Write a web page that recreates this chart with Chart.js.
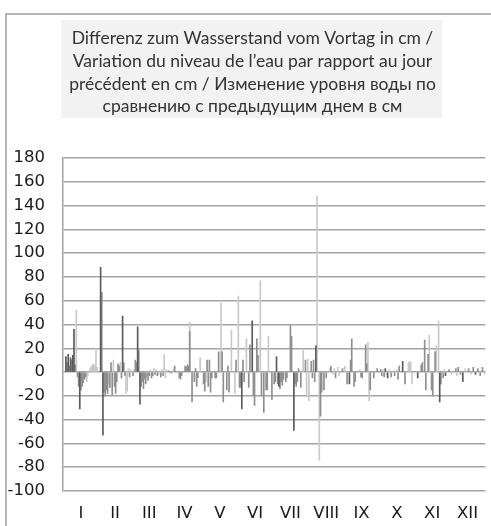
<!DOCTYPE html>
<html>
<head>
<meta charset="utf-8">
<script src="https://cdn.jsdelivr.net/npm/chart.js@4/dist/chart.umd.min.js"></script>
<style>
  body { margin: 0; background: #fff; }
  canvas { display: block; }
</style>
</head>
<body>
<canvas id="pegel" width="491" height="526"></canvas>
<script>
// Monate und Tage pro Monat
const monate = ['I', 'II', 'III', 'IV', 'V', 'VI', 'VII', 'VIII', 'IX', 'X', 'XI', 'XII'];
const monatsTage = [31, 28, 31, 30, 31, 30, 31, 31, 30, 31, 30, 31];

// [Tag des Jahres, Differenz in cm]
const reiheDunkel = [
  [2,13],[4,15],[6,12],[8,14],[9,36],[14,-31],[32,88],[34,-53],[51,47],[64,38],[66,-27],
  [154,-31],[163,43],[184,13],[186,-12],[199,-49],[218,22],[247,-10],[278,3],[280,-5],
  [293,9],[306,-5],[325,-25],[330,-3],[345,-8],[356,-2]
];
const reiheMittel = [
  [3,8],[5,5],[7,10],[10,6],[12,-4],[13,-12],[15,-15],[16,-12],[17,-9],[18,-6],[19,-4],
  [33,67],[35,-17],[36,-20],[37,-15],[38,-18],[40,-13],[41,8],[42,-19],[44,-12],[45,-18],
  [46,-8],[47,7],[48,5],[50,-5],[52,8],[53,-3],[57,-4],[60,-3],[62,10],[63,8],[65,18],
  [67,-12],[68,-8],[69,-14],[70,-6],[71,-10],[73,-7],[74,-3],[76,-5],[77,-3],[79,-2],
  [81,-3],[84,-4],[86,-3],[91,1],[93,-1],[96,5],[100,-5],[101,-6],[102,-3],[105,5],
  [106,4],[107,6],[108,5],[109,34],[111,-25],[113,-8],[114,3],[115,-12],[116,-5],
  [121,-10],[122,-16],[124,10],[125,-12],[126,10],[127,-17],[128,-5],[131,-5],[132,-5],
  [134,17],[137,17],[138,-25],[141,-15],[142,5],[143,-17],[149,10],[152,-13],[153,-13],
  [155,10],[156,-8],[160,-13],[161,23],[164,-20],[165,-28],[167,28],[168,14],[171,-20],
  [173,-34],[175,-15],[176,-15],[180,-23],[182,-10],[183,-8],[185,-10],[187,-14],[188,-8],
  [189,-11],[190,-6],[192,-8],[193,-5],[196,39],[197,30],[200,-10],[201,-12],[202,-8],
  [203,3],[205,-13],[209,10],[214,9],[215,-5],[216,10],[217,-8],[222,-37],[223,-17],
  [225,-15],[227,-5],[231,5],[235,-5],[241,3],[245,-10],[248,10],[249,28],[251,-12],
  [252,-8],[257,-4],[258,-5],[261,23],[262,7],[265,-15],[268,-5],[271,3],[274,2],[275,-3],
  [277,-4],[283,-4],[286,-3],[289,-6],[290,5],[295,-10],[309,6],[310,8],[312,27],[313,-15],
  [315,15],[318,-15],[319,-20],[321,17],[326,-10],[328,-5],[333,2],[339,3],[341,4],[343,-2],
  [350,3],[354,4],[358,3],[360,-3],[362,4]
];
const reiheHell = [
  [11,52],[20,-8],[21,-3],[23,3],[24,5],[25,6],[26,7],[27,5],[28,20],[29,4],[39,-10],
  [43,10],[49,8],[54,-18],[55,-16],[56,3],[58,2],[61,2],[72,-4],[75,2],[78,3],[80,2],
  [82,-2],[83,1],[85,2],[87,15],[88,-5],[89,2],[95,2],[109,42],[118,12],[123,-8],[136,58],
  [145,35],[148,-18],[151,64],[158,28],[170,77],[177,30],[207,18],[210,-20],[211,11],
  [212,-24],[219,148],[221,-74],[230,3],[233,-2],[234,3],[237,4],[238,-3],[243,5],[256,2],
  [263,25],[264,-24],[276,2],[279,-2],[281,2],[284,1],[288,2],[298,8],[299,9],[300,8],
  [301,-10],[316,31],[322,22],[324,43],[329,2],[335,-2],[340,-3],[347,3],[352,-2],[364,-2]
];

const titel = [
  'Differenz zum Wasserstand vom Vortag in cm /',
  'Variation du niveau de l\u2019eau par rapport au jour',
  'précédent en cm / Изменение уровня воды по',
  'сравнению с предыдущим днем в см'
];

// Monatsmitten fuer die Achsenbeschriftung
const monatsMitte = [];
let summe = 0;
monatsTage.forEach(t => { monatsMitte.push(summe + t / 2); summe += t; });

function punkte(reihe) {
  return reihe.map(p => ({ x: p[0] + 0.5, y: p[1] }));
}

const gitterFarbe = '#a3a3a3';

// Rahmen und grauer Titelkasten
const hintergrund = {
  id: 'hintergrund',
  afterLayout(chart) {
    // Titel etwas nach rechts, wie im Original
    if (chart.titleBlock) chart.titleBlock.left = 14;
  },
  beforeDraw(chart) {
    const ctx = chart.ctx;
    ctx.save();
    ctx.fillStyle = '#f2f2f2';
    ctx.fillRect(61, 20, 381, 98);
    ctx.strokeStyle = '#a0a0a0';
    ctx.lineWidth = 1.5;
    ctx.beginPath();
    ctx.moveTo(6, 526);
    ctx.lineTo(6, 14);
    ctx.lineTo(491, 14);
    ctx.stroke();
    ctx.restore();
  }
};

const config = {
  type: 'bar',
  data: {
    datasets: [
      { label: 'dunkel', data: punkte(reiheDunkel), backgroundColor: '#5a5a5a' },
      { label: 'mittel', data: punkte(reiheMittel), backgroundColor: '#8e8e8e' },
      { label: 'hell', data: punkte(reiheHell), backgroundColor: '#c8c8c8' }
    ]
  },
  options: {
    responsive: false,
    animation: false,
    devicePixelRatio: 1,
    layout: { padding: 0 },
    datasets: {
      bar: { grouped: false, barThickness: 1, borderWidth: 0 }
    },
    plugins: {
      legend: { display: false },
      tooltip: { enabled: false },
      title: {
        display: true,
        text: titel,
        color: '#333',
        font: { family: 'Lato', size: 17.5, weight: 'normal', lineHeight: 1.3 },
        padding: { top: 27, bottom: 40 }
      }
    },
    scales: {
      x: {
        type: 'linear',
        min: 0,
        max: 365,
        offset: false,
        grid: { display: false, drawTicks: false },
        border: { display: false },
        afterFit(scale) { scale.height = 35; },
        afterBuildTicks(scale) {
          scale.ticks = monatsMitte.map(v => ({ value: v }));
        },
        ticks: {
          autoSkip: false,
          maxRotation: 0,
          padding: 13,
          color: '#1a1a1a',
          font: { family: 'DejaVu Sans', size: 16.5 },
          callback: (v, i) => monate[i]
        }
      },
      y: {
        min: -100,
        max: 180,
        afterFit(scale) { scale.width = 63; },
        grid: { color: gitterFarbe, lineWidth: 1.5, drawTicks: false },
        border: { display: true, color: gitterFarbe, width: 1.5 },
        ticks: {
          stepSize: 20,
          padding: 18,
          color: '#1a1a1a',
          font: { family: 'DejaVu Sans', size: 16.5 }
        }
      }
    }
  },
  plugins: [hintergrund]
};

window.addEventListener('DOMContentLoaded', () => {
  const ctx = document.getElementById('pegel').getContext('2d');
  new Chart(ctx, config);
});
</script>
</body>
</html>
